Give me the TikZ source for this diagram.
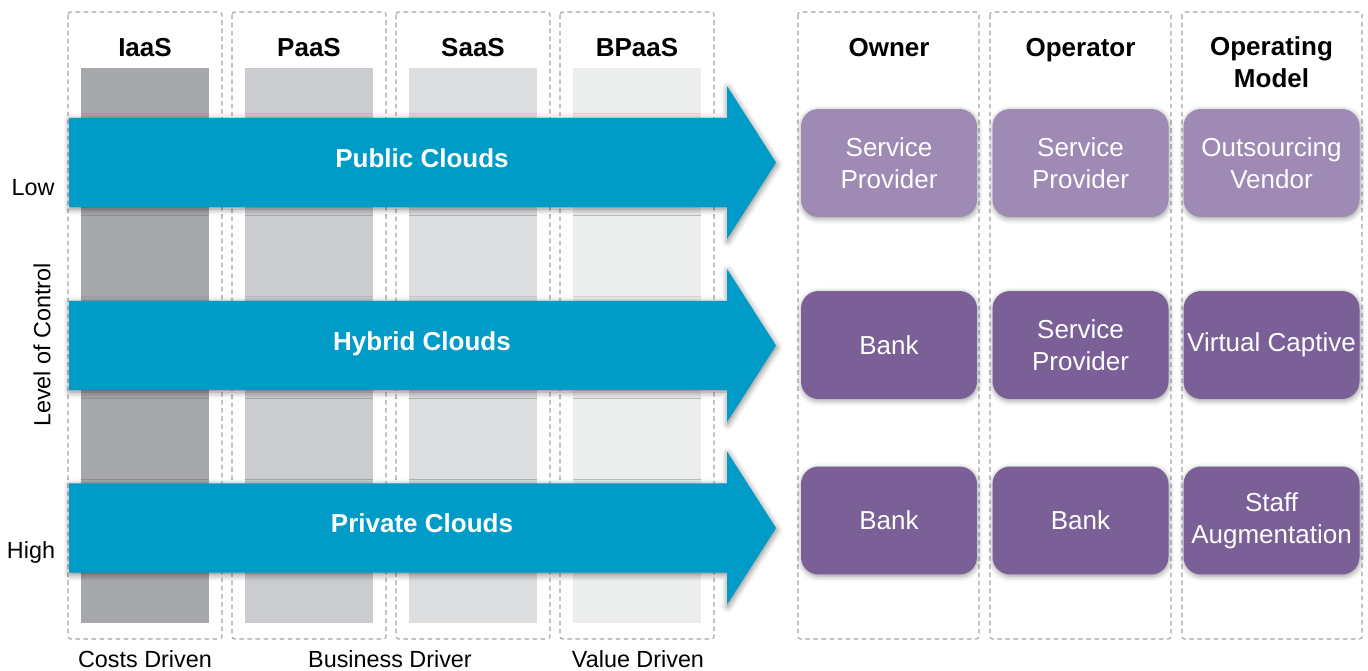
\documentclass[tikz,border=0pt]{standalone}
\usepackage{fontspec}
\setmainfont{Liberation Sans}
\usepackage{tikz}
\usetikzlibrary{positioning,shadows.blur}
\definecolor{cloudblue}{HTML}{009BC6}
\definecolor{rolelight}{HTML}{9E8AB5}
\definecolor{roledark}{HTML}{7B6097}
\definecolor{barA}{HTML}{A7A8AB}
\definecolor{barB}{HTML}{CBCCCF}
\definecolor{barC}{HTML}{DCDDDF}
\definecolor{barD}{HTML}{ECEDED}
\definecolor{framegray}{HTML}{A3A3A3}
\newcommand{\bigfont}{\fontsize{14.8}{18.1}\selectfont}
\newcommand{\smallfont}{\fontsize{13.3}{16}\selectfont}

\begin{document}
\begin{tikzpicture}[x=0.02cm, y=-0.02cm,
  frame/.style={draw=framegray, line width=0.6pt, dash pattern=on 2.6pt off 2pt,
                rounded corners=1.5pt},
  colhead/.style={font=\bigfont\bfseries, align=center},
  side/.style={font=\smallfont},
  cloudarrow/.style={fill=cloudblue,
                blur shadow={shadow xshift=0.4pt, shadow yshift=-1.2pt,
                             shadow blur radius=3.5pt, shadow opacity=50}},
  armlabel/.style={font=\bigfont\bfseries, text=white, anchor=base},
  rolebox/.style={rounded corners=10pt, minimum width=3.52cm, minimum height=2.16cm,
                  inner sep=0pt, align=center, text=white, font=\bigfont,
                  blur shadow={shadow xshift=0.3pt, shadow yshift=-1pt,
                               shadow blur radius=3pt, shadow opacity=40}}
]
  \useasboundingbox (0,0) rectangle (1368,671);

  % Service model columns
  \foreach \name/\col [count=\i from 0] in {IaaS/barA, PaaS/barB, SaaS/barC, BPaaS/barD}{
    \draw[frame] (68+164*\i,12) rectangle +(154,627);
    \fill[\col] (81+164*\i,68) rectangle +(128,555);
    \node[colhead, anchor=base] (svc\i) at (145+164*\i,56.4) {\name};
  }

  % Ownership columns
  \foreach \name [count=\j from 0] in {Owner, Operator}{
    \draw[frame] (798+192*\j,12) rectangle +(181,627);
    \node[colhead, anchor=base] (own\j) at (889+191.5*\j,56.4) {\name};
  }
  \draw[frame] (1182,12) rectangle +(180,627);
  \node[colhead] (opmodel) at (1271.5,62) {Operating\\Model};

  % Cloud arrows
  \foreach \y/\txt [count=\r] in {162.5/Public Clouds, 345.5/Hybrid Clouds, 528/Private Clouds}{
    \fill[cloudarrow] (69,\y-44.5) -- (727,\y-44.5) -- (727,\y-76.5) -- (776,\y)
      -- (727,\y+76.5) -- (727,\y+44.5) -- (69,\y+44.5) -- cycle;
    \node[armlabel] (cloud\r) at (422,\y+5) {\txt};
  }

  % Role boxes
  \foreach \x/\y/\txt/\col [count=\k] in {
      889/163/{Service\\Provider}/rolelight,
      1080.5/163/{Service\\Provider}/rolelight,
      1271.5/163/{Outsourcing\\Vendor}/rolelight,
      889/345/Bank/roledark,
      1080.5/345/{Service\\Provider}/roledark,
      1271.5/345/Virtual Captive/roledark,
      889/520.5/Bank/roledark,
      1080.5/520.5/Bank/roledark,
      1271.5/520.5/{Staff\\Augmentation}/roledark}{
    \node[rolebox, fill=\col] (role\k) at (\x,\y) {\txt};
  }

  % Level of control axis
  \node[side] (low) at (33,188) {Low};
  \node[side] (high) at (31,552) {High};
  \node[side, rotate=90] (level) at (42,345) {Level of Control};

  % Drivers
  \node[side, anchor=base] (cost) at (145,667) {Costs Driven};
  \node[side, anchor=base] (biz) at (390,667) {Business Driver};
  \node[side, anchor=base] (value) at (638,667) {Value Driven};
\end{tikzpicture}
\end{document}
